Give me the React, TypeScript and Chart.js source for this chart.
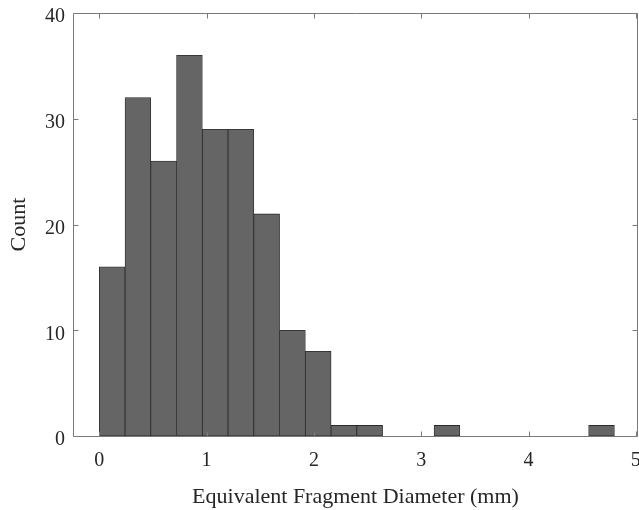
import { useEffect, useRef } from 'react';
import { Chart, registerables } from 'chart.js';

Chart.register(...registerables);

// Histogram bins (left edges, mm) and counts
const binStarts = [0, 0.24, 0.48, 0.72, 0.96, 1.2, 1.44, 1.68, 1.92, 2.16, 2.4, 2.64, 2.88, 3.12, 3.36, 3.6, 3.84, 4.08, 4.32, 4.56];
const binWidth = 0.24;
const counts = [16, 32, 26, 36, 29, 29, 21, 10, 8, 1, 1, 0, 0, 1, 0, 0, 0, 0, 0, 1];
const xTickValues = [0, 1, 2, 3, 4, 5];
const yTickValues = [0, 10, 20, 30, 40];
const xTitle = 'Equivalent Fragment Diameter (mm)';
const yTitle = 'Count';

const FONT = "'Liberation Serif', 'Times New Roman', serif";
const TEXT = '#262626';
const AXIS = '#7a7a7a';

const framePlugin = {
  id: 'frame',
  afterDatasetsDraw(chart: any) {
    const { ctx, chartArea, scales } = chart;
    const { left, right, top, bottom } = chartArea;
    const x = scales.x;
    const y = scales.y;
    const L = Math.round(left) + 0.5;
    const R = Math.round(right) - 0.5;
    const T = Math.round(top) + 0.5;
    const B = Math.round(bottom) + 0.5;
    const tl = 5;
    ctx.save();
    ctx.strokeStyle = AXIS;
    ctx.lineWidth = 1;
    ctx.beginPath();
    ctx.rect(L, T, R - L, B - T);
    for (const v of xTickValues) {
      const px = Math.round(x.getPixelForValue(v)) + 0.5;
      ctx.moveTo(px, B);
      ctx.lineTo(px, B - tl);
      ctx.moveTo(px, T);
      ctx.lineTo(px, T + tl);
    }
    for (const v of yTickValues) {
      const py = Math.round(y.getPixelForValue(v)) + 0.5;
      ctx.moveTo(L, py);
      ctx.lineTo(L + tl, py);
      ctx.moveTo(R, py);
      ctx.lineTo(R - tl, py);
    }
    ctx.stroke();
    ctx.restore();
  },
};

export default function App() {
  const ref = useRef<HTMLCanvasElement | null>(null);

  useEffect(() => {
    if (!ref.current) return;
    const data = binStarts.map((s, i) => ({ x: s + binWidth / 2, y: counts[i] }));
    const chart = new Chart(ref.current, {
      type: 'bar',
      data: {
        datasets: [
          {
            data: data as any,
            backgroundColor: '#656565',
            borderColor: '#2a2a2a',
            borderWidth: 0.8,
            borderSkipped: false,
            barPercentage: 1,
            categoryPercentage: 1,
          },
        ],
      },
      options: {
        responsive: false,
        animation: false,
        events: [],
        layout: { padding: { top: 13, right: 1, left: 0, bottom: 0 } },
        plugins: { legend: { display: false }, tooltip: { enabled: false } },
        scales: {
          x: {
            type: 'linear',
            offset: false,
            min: -0.245,
            max: 5.02,
            grid: { display: false, drawTicks: false },
            border: { display: false },
            afterBuildTicks: (s: any) => {
              s.ticks = xTickValues.map((v) => ({ value: v }));
            },
            afterFit: (s: any) => {
              s.height = 74;
              s.paddingLeft = 0;
              s.paddingRight = 0;
            },
            ticks: {
              padding: 13,
              color: TEXT,
              font: { family: FONT, size: 20 },
              maxRotation: 0,
              autoSkip: false,
              callback: (v: any) => String(v),
            },
            title: {
              display: true,
              text: xTitle,
              color: TEXT,
              font: { family: FONT, size: 22 },
              padding: { top: 0, bottom: 0 },
            },
          },
          y: {
            type: 'linear',
            min: 0,
            max: 40,
            grid: { display: false, drawTicks: false },
            border: { display: false },
            afterBuildTicks: (s: any) => {
              s.ticks = yTickValues.map((v) => ({ value: v }));
            },
            afterFit: (s: any) => {
              s.width = 73;
              s.paddingTop = 0;
              s.paddingBottom = 0;
            },
            ticks: {
              padding: 8,
              labelOffset: 4,
              color: TEXT,
              font: { family: FONT, size: 20 },
              callback: (v: any) => String(v),
            },
            title: {
              display: true,
              text: yTitle,
              color: TEXT,
              font: { family: FONT, size: 22 },
              padding: { top: 6, bottom: 0 },
            },
          },
        },
      },
      plugins: [framePlugin],
    });
    return () => chart.destroy();
  }, []);

  return (
    <div style={{ position: 'absolute', left: 0, top: 0, width: 639, height: 510, background: '#fff' }}>
      <canvas ref={ref} width={639} height={510} style={{ display: 'block' }} />
    </div>
  );
}
